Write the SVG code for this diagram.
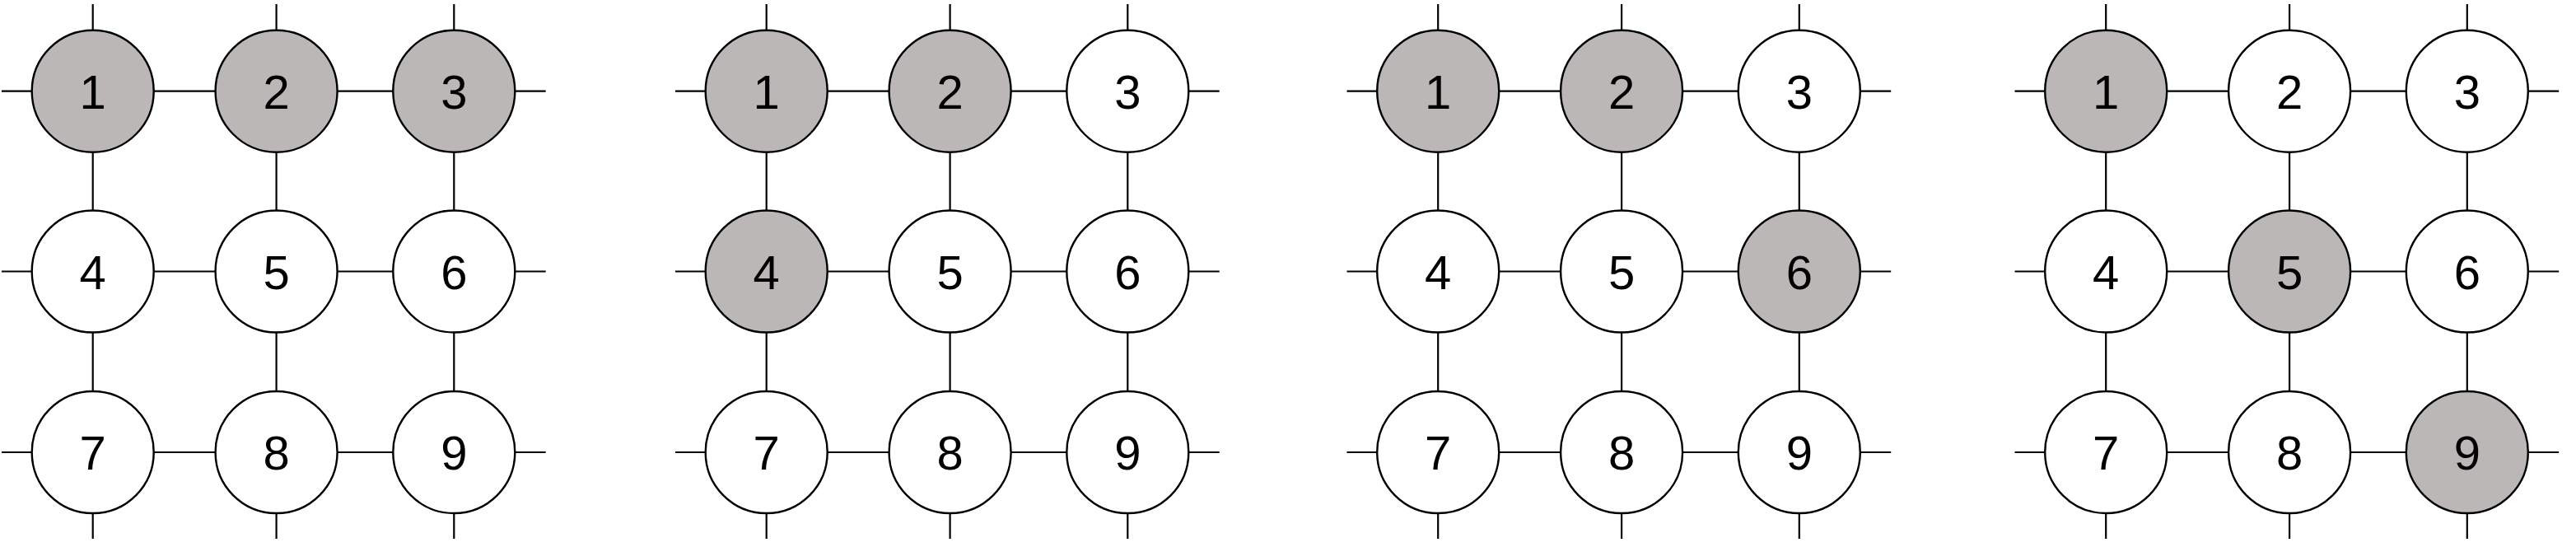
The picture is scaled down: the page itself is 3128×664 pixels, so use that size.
<svg xmlns="http://www.w3.org/2000/svg" width="3128" height="664" viewBox="0 0 3128 664">
<style>
.e{stroke:#000;stroke-width:2.2;fill:none}
.n circle{stroke:#000;stroke-width:2.4;fill:#fff}
.n.g circle{fill:#bab7b6}
.n text{font-family:"Liberation Sans",Arial,sans-serif;font-size:58px;fill:#000;text-anchor:middle}
</style>
<rect width="3128" height="664" fill="#fff"/>
<defs>
<g id="grid" class="e">
<path d="M2 110.7H662.7M2 329.5H662.7M2 549H662.7M112.7 5V654M335.6 5V654M551.3 5V654"/>
</g>
</defs>
<g id="connectors">
<use href="#grid"/>
<use href="#grid" transform="translate(818,0)"/>
<use href="#grid" transform="translate(1633.5,0)"/>
<use href="#grid" transform="translate(2444.5,0)"/>
</g>
<g id="panel1">
<g id="p1n1" class="n g"><circle cx="112.7" cy="110.7" r="74"/><text x="112.7" y="131.7">1</text></g>
<g id="p1n2" class="n g"><circle cx="335.6" cy="110.7" r="74"/><text x="335.6" y="131.7">2</text></g>
<g id="p1n3" class="n g"><circle cx="551.3" cy="110.7" r="74"/><text x="551.3" y="131.7">3</text></g>
<g id="p1n4" class="n"><circle cx="112.7" cy="329.5" r="74"/><text x="112.7" y="350.5">4</text></g>
<g id="p1n5" class="n"><circle cx="335.6" cy="329.5" r="74"/><text x="335.6" y="350.5">5</text></g>
<g id="p1n6" class="n"><circle cx="551.3" cy="329.5" r="74"/><text x="551.3" y="350.5">6</text></g>
<g id="p1n7" class="n"><circle cx="112.7" cy="549" r="74"/><text x="112.7" y="570">7</text></g>
<g id="p1n8" class="n"><circle cx="335.6" cy="549" r="74"/><text x="335.6" y="570">8</text></g>
<g id="p1n9" class="n"><circle cx="551.3" cy="549" r="74"/><text x="551.3" y="570">9</text></g>
</g>
<g id="panel2" transform="translate(818,0)">
<g id="p2n1" class="n g"><circle cx="112.7" cy="110.7" r="74"/><text x="112.7" y="131.7">1</text></g>
<g id="p2n2" class="n g"><circle cx="335.6" cy="110.7" r="74"/><text x="335.6" y="131.7">2</text></g>
<g id="p2n3" class="n"><circle cx="551.3" cy="110.7" r="74"/><text x="551.3" y="131.7">3</text></g>
<g id="p2n4" class="n g"><circle cx="112.7" cy="329.5" r="74"/><text x="112.7" y="350.5">4</text></g>
<g id="p2n5" class="n"><circle cx="335.6" cy="329.5" r="74"/><text x="335.6" y="350.5">5</text></g>
<g id="p2n6" class="n"><circle cx="551.3" cy="329.5" r="74"/><text x="551.3" y="350.5">6</text></g>
<g id="p2n7" class="n"><circle cx="112.7" cy="549" r="74"/><text x="112.7" y="570">7</text></g>
<g id="p2n8" class="n"><circle cx="335.6" cy="549" r="74"/><text x="335.6" y="570">8</text></g>
<g id="p2n9" class="n"><circle cx="551.3" cy="549" r="74"/><text x="551.3" y="570">9</text></g>
</g>
<g id="panel3" transform="translate(1633.5,0)">
<g id="p3n1" class="n g"><circle cx="112.7" cy="110.7" r="74"/><text x="112.7" y="131.7">1</text></g>
<g id="p3n2" class="n g"><circle cx="335.6" cy="110.7" r="74"/><text x="335.6" y="131.7">2</text></g>
<g id="p3n3" class="n"><circle cx="551.3" cy="110.7" r="74"/><text x="551.3" y="131.7">3</text></g>
<g id="p3n4" class="n"><circle cx="112.7" cy="329.5" r="74"/><text x="112.7" y="350.5">4</text></g>
<g id="p3n5" class="n"><circle cx="335.6" cy="329.5" r="74"/><text x="335.6" y="350.5">5</text></g>
<g id="p3n6" class="n g"><circle cx="551.3" cy="329.5" r="74"/><text x="551.3" y="350.5">6</text></g>
<g id="p3n7" class="n"><circle cx="112.7" cy="549" r="74"/><text x="112.7" y="570">7</text></g>
<g id="p3n8" class="n"><circle cx="335.6" cy="549" r="74"/><text x="335.6" y="570">8</text></g>
<g id="p3n9" class="n"><circle cx="551.3" cy="549" r="74"/><text x="551.3" y="570">9</text></g>
</g>
<g id="panel4" transform="translate(2444.5,0)">
<g id="p4n1" class="n g"><circle cx="112.7" cy="110.7" r="74"/><text x="112.7" y="131.7">1</text></g>
<g id="p4n2" class="n"><circle cx="335.6" cy="110.7" r="74"/><text x="335.6" y="131.7">2</text></g>
<g id="p4n3" class="n"><circle cx="551.3" cy="110.7" r="74"/><text x="551.3" y="131.7">3</text></g>
<g id="p4n4" class="n"><circle cx="112.7" cy="329.5" r="74"/><text x="112.7" y="350.5">4</text></g>
<g id="p4n5" class="n g"><circle cx="335.6" cy="329.5" r="74"/><text x="335.6" y="350.5">5</text></g>
<g id="p4n6" class="n"><circle cx="551.3" cy="329.5" r="74"/><text x="551.3" y="350.5">6</text></g>
<g id="p4n7" class="n"><circle cx="112.7" cy="549" r="74"/><text x="112.7" y="570">7</text></g>
<g id="p4n8" class="n"><circle cx="335.6" cy="549" r="74"/><text x="335.6" y="570">8</text></g>
<g id="p4n9" class="n g"><circle cx="551.3" cy="549" r="74"/><text x="551.3" y="570">9</text></g>
</g>
</svg>
